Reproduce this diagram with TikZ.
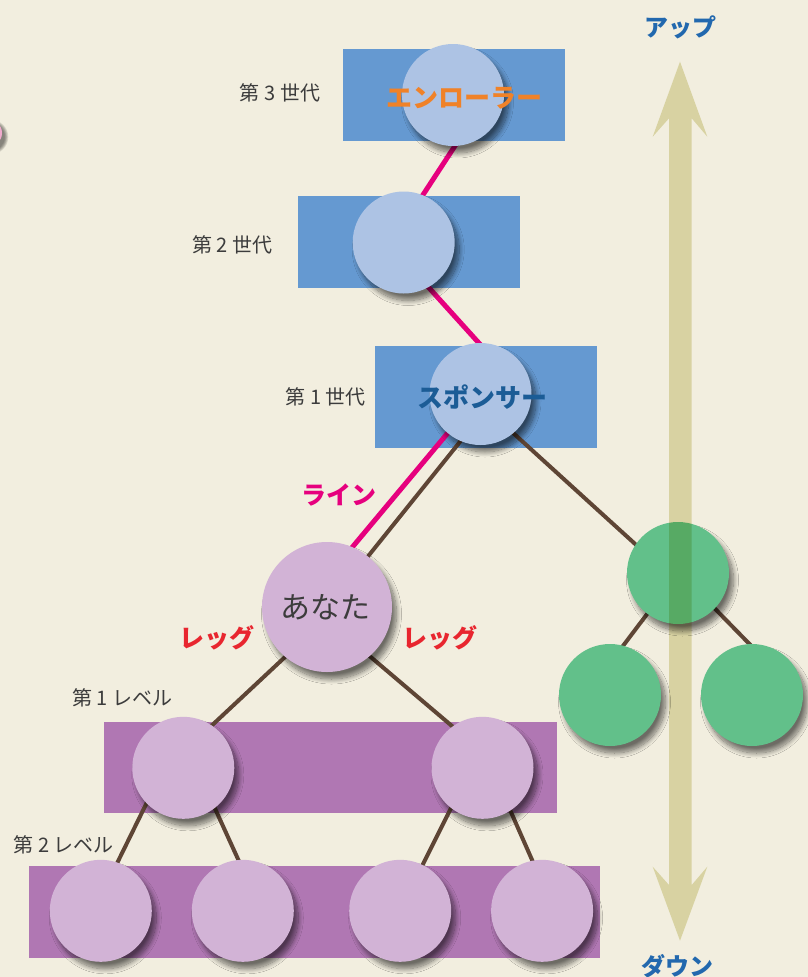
\documentclass[tikz,border=0pt]{standalone}
\usepackage{fontspec}
\setmainfont{Noto Sans CJK JP}
\usetikzlibrary{shadows.blur}
\definecolor{cream}{RGB}{242,238,223}
\definecolor{barblue}{RGB}{101,153,209}
\definecolor{lblue}{RGB}{173,195,228}
\definecolor{barpurple}{RGB}{176,119,179}
\definecolor{lpurple}{RGB}{210,179,214}
\definecolor{leafgreen}{RGB}{98,192,138}
\definecolor{arrowc}{RGB}{228,226,186}
\definecolor{linepink}{RGB}{230,0,126}
\definecolor{brownc}{RGB}{94,69,53}
\definecolor{orangec}{RGB}{240,130,40}
\definecolor{navyc}{RGB}{27,92,150}
\definecolor{redc}{RGB}{232,38,47}
\definecolor{upblue}{RGB}{34,104,174}
\definecolor{labgray}{RGB}{60,60,60}
\definecolor{edgepink}{RGB}{240,170,205}
\begin{document}
\begin{tikzpicture}[x=1pt,y=-1pt,
  spot/.style={circle, inner sep=0pt, minimum size=102pt},
  bubble/.style={circle, inner sep=0pt, minimum size=102pt,
    blur shadow={shadow xshift=4.5pt, shadow yshift=-7pt, shadow blur radius=5pt, shadow opacity=55, shadow blur steps=12}},
  bluec/.style={bubble, fill=lblue},
  purc/.style={bubble, fill=lpurple},
  grnc/.style={bubble, fill=leafgreen},
  bar/.style={rectangle, inner sep=0pt, minimum width=222pt},
  pinkline/.style={line width=5pt, draw=linepink, shorten <=-3pt, shorten >=-3pt},
  brownline/.style={line width=4pt, draw=brownc, shorten <=-3pt, shorten >=-3pt},
  lab/.style={text=labgray, font=\fontsize{20pt}{24pt}\selectfont, inner sep=0pt},
  kw/.style={font=\fontsize{26pt}{30pt}\selectfont\bfseries, inner sep=0pt}]
\useasboundingbox (0,0) rectangle (808,977);
\fill[cream] (0,0) rectangle (808,977);
% bars
\node[bar, fill=barblue, minimum height=91.7pt] (bar3) at (454,94.85) {};
\node[bar, fill=barblue, minimum height=92pt] (bar2) at (409,242) {};
\node[bar, fill=barblue, minimum height=102.3pt] (bar1) at (486,397.15) {};
\node[bar, fill=barpurple, minimum width=452.7pt, minimum height=91pt] (lev1) at (330.35,767.8) {};
\node[bar, fill=barpurple, minimum width=570.9pt, minimum height=91.7pt] (lev2) at (314.35,911.85) {};

% positions of the circles
\node[spot] (g3) at (453,95) {};
\node[spot] (g2) at (403.7,242.5) {};
\node[spot] (g1) at (480.5,394) {};
\node[spot, minimum size=130pt] (you) at (327,607) {};
\node[spot] (gt) at (678,573) {};
\node[spot] (gbl) at (610,695) {};
\node[spot] (gbr) at (752,695) {};
\node[spot] (l1a) at (183.3,767.8) {};
\node[spot] (l1b) at (482.5,767.8) {};
\node[spot] (l2a) at (100.8,910.8) {};
\node[spot] (l2b) at (242.8,910.8) {};
\node[spot] (l2c) at (400.2,910.8) {};
\node[spot] (l2d) at (542.1,910.8) {};

% connectors
\draw[pinkline] (g3.272) -- (g2.68);
\draw[pinkline] (g2.299) -- (g1.92);
\draw[pinkline] (g1.230) -- (you.67);
\draw[brownline] (g1.247) -- (you.51.5);
\draw[brownline] (g1.310) -- (gt.146);
\draw[brownline] (gt.233) -- (gbl.75);
\draw[brownline] (gt.316.6) -- (gbr.93.4);
\draw[brownline] (you.230) -- (l1a.56.6);
\draw[brownline] (you.311.6) -- (l1b.126.4);
\draw[brownline] (l1a.224) -- (l2a.71.7);
\draw[brownline] (l1a.308) -- (l2b.95.4);
\draw[brownline] (l1b.232.2) -- (l2c.64.3);
\draw[brownline] (l1b.303.5) -- (l2d.101.5);

% filled circles with shadows
\foreach \k in {1,...,6}{
  \fill[black, opacity=0.09] (-12+3,133+4) circle ({14+4-0.7*\k});
}
\node[spot, fill=edgepink, minimum size=28pt] (edge) at (-12,133) {};
\node[bluec] (g3f) at (g3.center) {};
\node[bluec] (g2f) at (g2.center) {};
\node[bluec] (g1f) at (g1.center) {};
\node[purc, minimum size=130pt] (youf) at (you.center) {};
\node[grnc] (gtf) at (gt.center) {};
\node[grnc] (gblf) at (gbl.center) {};
\node[grnc] (gbrf) at (gbr.center) {};
\node[purc] (l1af) at (l1a.center) {};
\node[purc] (l1bf) at (l1b.center) {};
\node[purc] (l2af) at (l2a.center) {};
\node[purc] (l2bf) at (l2b.center) {};
\node[purc] (l2cf) at (l2c.center) {};
\node[purc] (l2df) at (l2d.center) {};

% up/down arrow
\begin{scope}[blend mode=multiply]
\fill[arrowc] (680,61.7) -- (707.3,136.7) -- (691.7,118.3) -- (691.7,885) -- (707.3,866.7)
  -- (680,940.7) -- (652.7,866.7) -- (669,885) -- (669,118.3) -- (652.7,136.7) -- cycle;
\end{scope}

% texts
\node[kw, text=orangec] (t3) at (464.2,98.3) {エンローラー};
\node[kw, text=navyc] (t1) at (482.5,396.7) {スポンサー};
\node[kw, text=linepink, font=\fontsize{25pt}{30pt}\selectfont\bfseries] (tline) at (339,495) {ライン};
\node[kw, text=redc, font=\fontsize{25pt}{30pt}\selectfont\bfseries] (tlegl) at (216.7,638.3) {レッグ};
\node[kw, text=redc, font=\fontsize{25pt}{30pt}\selectfont\bfseries] (tlegr) at (440,638.3) {レッグ};
\node[kw, text=upblue, font=\fontsize{24pt}{28pt}\selectfont\bfseries] (tup) at (680.8,27.2) {アップ};
\node[kw, text=upblue, font=\fontsize{24pt}{28pt}\selectfont\bfseries] (tdown) at (677.5,966) {ダウン};
\node[text=labgray, inner sep=0pt, font=\fontsize{30pt}{36pt}\selectfont] (tyou) at (325,607.5) {あなた};
\node[lab] (lg3) at (280,92.5) {第 3 世代};
\node[lab] (lg2) at (232.5,245) {第 2 世代};
\node[lab] (lg1) at (325.8,396.7) {第 1 世代};
\node[lab] (ll1) at (122.5,697.5) {第 1 レベル};
\node[lab] (ll2) at (63.8,845) {第 2 レベル};
\end{tikzpicture}
\end{document}
